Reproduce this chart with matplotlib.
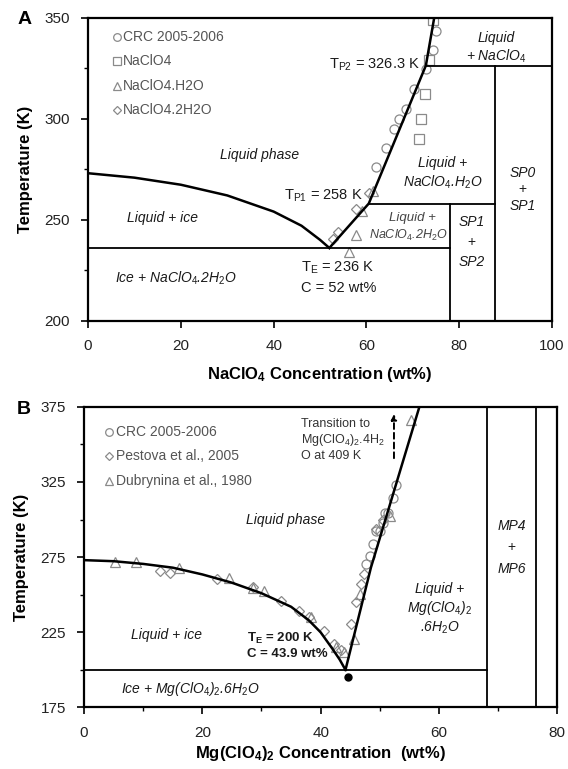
import matplotlib
matplotlib.use("Agg")
import matplotlib.pyplot as plt
from matplotlib.ticker import MultipleLocator, FixedLocator

plt.rcParams["font.family"] = ["Liberation Sans", "DejaVu Sans"]
plt.rcParams["mathtext.fontset"] = "custom"
plt.rcParams["mathtext.rm"] = "Liberation Sans"
plt.rcParams["mathtext.it"] = "Liberation Sans:italic"
plt.rcParams["mathtext.bf"] = "Liberation Sans:bold"

# ---- panel A data (NaClO4) ----
a_ice_x = [0, 10, 20, 30, 40, 46, 50, 52]
a_ice_t = [273, 270.8, 267.3, 262, 254, 247, 240, 236]
a_liq_x = [52, 60.5, 72.8, 74.6]
a_liq_t = [236, 258, 326.3, 350]

a_crc_x = [75.0, 74.4, 72.8, 70.3, 68.5, 67.1, 66.0, 64.2, 62.1]
a_crc_t = [343.5, 333.9, 324.4, 314.8, 304.6, 299.8, 295.0, 285.5, 276.0]
a_sq_x = [74.4, 73.5, 72.6, 71.7, 71.4]
a_sq_t = [348.7, 329.0, 312.4, 299.7, 289.8]
a_tri_x = [61.3, 59.0, 57.8, 56.3]
a_tri_t = [264.0, 254.5, 242.5, 234.0]
a_dia_x = [60.5, 57.8, 53.9, 52.7]
a_dia_t = [263.0, 255.4, 244.0, 240.6]

# ---- panel B data (Mg(ClO4)2) ----
b_ice_x = [0, 5, 10, 15, 20, 25, 30, 35, 38, 40, 42, 43.2, 44.2]
b_ice_t = [273, 272.3, 270.5, 268, 263.5, 258, 251, 242, 233, 225, 214, 207, 200]
b_liq_x = [44.2, 48.5, 56.7]
b_liq_t = [200, 268, 375]

b_crc_x = [52.8, 52.2, 51.4, 50.8, 50.5, 50.0, 49.4, 48.8, 48.3, 47.7]
b_crc_t = [323.0, 314.5, 304.6, 304.6, 298.0, 292.4, 292.4, 283.6, 275.9, 270.4]
b_pes_x = [12.9, 14.6, 22.5, 28.5, 33.3, 36.4, 38.1, 40.6, 42.3, 43.5,
           45.2, 46.0, 46.9, 47.4, 49.4, 50.5]
b_pes_t = [266.0, 264.2, 260.4, 254.9, 246.0, 239.4, 235.0, 226.2, 217.4, 213.0,
           230.6, 245.0, 257.0, 263.7, 293.5, 300.0]
b_dub_x = [5.3, 8.8, 16.0, 24.5, 28.5, 30.4, 38.4, 42.6, 44.0, 45.7, 46.6, 51.7, 55.3]
b_dub_t = [272.0, 271.5, 267.7, 260.9, 254.3, 252.7, 235.0, 215.0, 212.0, 220.7, 250.5, 302.3, 366.4]

GRAY = "#8a8a8a"
TXT = "#1a1a1a"
mk = dict(linestyle="none", mfc="none", mec=GRAY, mew=0.9, ms=6.5)

fig = plt.figure(figsize=(5.68, 7.69), dpi=100)

# ================= panel A =================
ax = fig.add_axes([0.155, 0.583, 0.817, 0.394])
ax.set_xlim(0, 100)
ax.set_ylim(200, 350)

ax.plot(a_crc_x, a_crc_t, marker="o", **mk)
ax.plot(a_sq_x, a_sq_t, marker="s", **mk)
ax.plot(a_tri_x, a_tri_t, marker="^", **mk)
ax.plot(a_dia_x, a_dia_t, marker="D", **dict(mk, ms=5))

ax.plot(a_ice_x, a_ice_t, color="k", lw=1.8)
ax.plot(a_liq_x, a_liq_t, color="k", lw=1.8)
ax.plot([0, 78], [236, 236], color="k", lw=1.3)
ax.plot([60.5, 87.6], [258, 258], color="k", lw=1.3)
ax.plot([78, 78], [200, 258], color="k", lw=1.3)
ax.plot([87.6, 87.6], [200, 326.3], color="k", lw=1.3)
ax.plot([72.8, 100], [326.3, 326.3], color="k", lw=1.3)

# legend A
leg_y = [340.6, 328.4, 316.3, 304.4]
leg_m = ["o", "s", "^", "D"]
leg_t = ["CRC 2005-2006", "NaClO4", "NaClO4.H2O", "NaClO4.2H2O"]
for yy, m, t in zip(leg_y, leg_m, leg_t):
    ax.plot([6.2], [yy], marker=m, **dict(mk, ms=5.5 if m != "D" else 4.5))
    ax.text(7.6, yy, t, fontsize=10, color="#555555", va="center")

it = dict(fontsize=10, style="italic", color=TXT, ha="center", va="center")
ax.text(37, 282, "Liquid phase", **it)
ax.text(16, 251, "Liquid + ice", **it)
ax.text(19, 221, r"Ice + NaClO$_\mathit{4}$.2H$_\mathit{2}$O", **it)
ax.text(76.5, 278, "Liquid +", **it)
ax.text(76.5, 268.5, r"NaClO$_\mathit{4}$.H$_\mathit{2}$O", **it)
ax.text(88, 340, "Liquid", **it)
ax.text(88, 330.7, r"+ NaClO$_\mathit{4}$", **it)
ax.text(70, 251, "Liquid +", **dict(it, color="#444444", fontsize=9.5))
ax.text(77.6, 242, r"NaClO$_\mathit{4}$.2H$_\mathit{2}$O",
        **dict(it, color="#444444", fontsize=9, ha="right"))
ax.text(93.7, 273, "SP0", **it)
ax.text(93.7, 265, "+", **dict(it, style="normal"))
ax.text(93.7, 257, "SP1", **it)
ax.text(82.7, 249, "SP1", **it)
ax.text(82.7, 239, "+", **dict(it, style="normal"))
ax.text(82.7, 229, "SP2", **it)

nt = dict(fontsize=10.5, color=TXT, va="center")
ax.text(59.2, 262, r"T$_\mathrm{P1}$ = 258 K", ha="right", **nt)
ax.text(71.6, 326.5, r"T$_\mathrm{P2}$ = 326.3 K", ha="right", **nt)
ax.text(45.8, 226, r"T$_\mathrm{E}$ = 236 K", ha="left", **nt)
ax.text(45.8, 216, "C = 52 wt%", ha="left", **nt)

ax.xaxis.set_major_locator(MultipleLocator(20))
ax.yaxis.set_major_locator(MultipleLocator(50))
ax.yaxis.set_minor_locator(MultipleLocator(25))
ax.set_xlabel(r"NaClO$_\mathbf{4}$ Concentration (wt%)", fontsize=12, fontweight="bold", labelpad=9)
ax.set_ylabel("Temperature (K)", fontsize=12, fontweight="bold", labelpad=8)
fig.text(0.03, 0.975, "A", fontsize=14, fontweight="bold", va="center")

# ================= panel B =================
bx = fig.add_axes([0.148, 0.08, 0.833, 0.391])
bx.set_xlim(0, 80)
bx.set_ylim(175, 375)

bx.plot(b_crc_x, b_crc_t, marker="o", **mk)
bx.plot(b_pes_x, b_pes_t, marker="D", **dict(mk, ms=5))
bx.plot(b_dub_x, b_dub_t, marker="^", **mk)

bx.plot(b_ice_x, b_ice_t, color="k", lw=1.8)
bx.plot(b_liq_x, b_liq_t, color="k", lw=1.8)
bx.plot([0, 68.2], [200, 200], color="k", lw=1.3)
bx.plot([68.2, 68.2], [175, 375], color="k", lw=1.3)
bx.plot([76.4, 76.4], [175, 375], color="k", lw=1.3)
bx.plot([44.6], [195], marker="o", color="k", ms=5, linestyle="none")

bx.annotate("", xy=(52.4, 372), xytext=(52.4, 339),
            arrowprops=dict(arrowstyle="-|>", color="k", lw=1.4, linestyle=(0, (3, 2)),
                            mutation_scale=8))
bt = dict(fontsize=9, color="#333333", ha="left", va="center")
bx.text(36.6, 363.5, "Transition to", **bt)
bx.text(36.6, 353, r"Mg(ClO$_4$)$_2$.4H$_2$", **bt)
bx.text(36.6, 342.5, "O at 409 K", **bt)

leg_y = [358.5, 342, 325.5]
leg_m = ["o", "D", "^"]
leg_t = ["CRC 2005-2006", "Pestova et al., 2005", "Dubrynina et al., 1980"]
for yy, m, t in zip(leg_y, leg_m, leg_t):
    bx.plot([4.2], [yy], marker=m, **dict(mk, ms=5.5 if m != "D" else 4.5))
    bx.text(5.4, yy, t, fontsize=10, color="#555555", va="center")

bx.text(34, 300, "Liquid phase", **it)
bx.text(14, 223, "Liquid + ice", **it)
bx.text(18, 187.5, r"Ice + Mg(ClO$_\mathit{4}$)$_\mathit{2}$.6H$_\mathit{2}$O", **it)
bx.text(60.2, 254, "Liquid +", **it)
bx.text(60.2, 241, r"Mg(ClO$_\mathit{4}$)$_\mathit{2}$", **it)
bx.text(60.2, 228, r".6H$_\mathit{2}$O", **it)
bx.text(72.3, 295.5, "MP4", **it)
bx.text(72.3, 281.5, "+", **dict(it, style="normal"))
bx.text(72.3, 267, "MP6", **it)

bb = dict(fontsize=9.5, color=TXT, ha="left", va="center", fontweight="bold")
bx.text(27.6, 221, r"T$_\mathbf{E}$ = 200 K", **bb)
bx.text(27.6, 210.5, "C = 43.9 wt%", **bb)

bx.xaxis.set_major_locator(MultipleLocator(20))
bx.xaxis.set_minor_locator(MultipleLocator(10))
bx.yaxis.set_major_locator(FixedLocator([175, 225, 275, 325, 375]))
bx.yaxis.set_minor_locator(FixedLocator([200, 250, 300, 350]))
bx.set_xlabel(r"Mg(ClO$_\mathbf{4}$)$_\mathbf{2}$ Concentration  (wt%)", fontsize=12,
              fontweight="bold", labelpad=3)
bx.set_ylabel("Temperature (K)", fontsize=12, fontweight="bold", labelpad=8)
fig.text(0.03, 0.468, "B", fontsize=14, fontweight="bold", va="center")

for a in (ax, bx):
    for s in a.spines.values():
        s.set_linewidth(1.6)
    a.tick_params(which="major", direction="out", length=5, width=1.2, labelsize=11,
                  colors="k", labelcolor="#222222", pad=8)
    a.tick_params(which="minor", direction="out", length=3, width=1.0)

fig.savefig("out.png", dpi=100)
